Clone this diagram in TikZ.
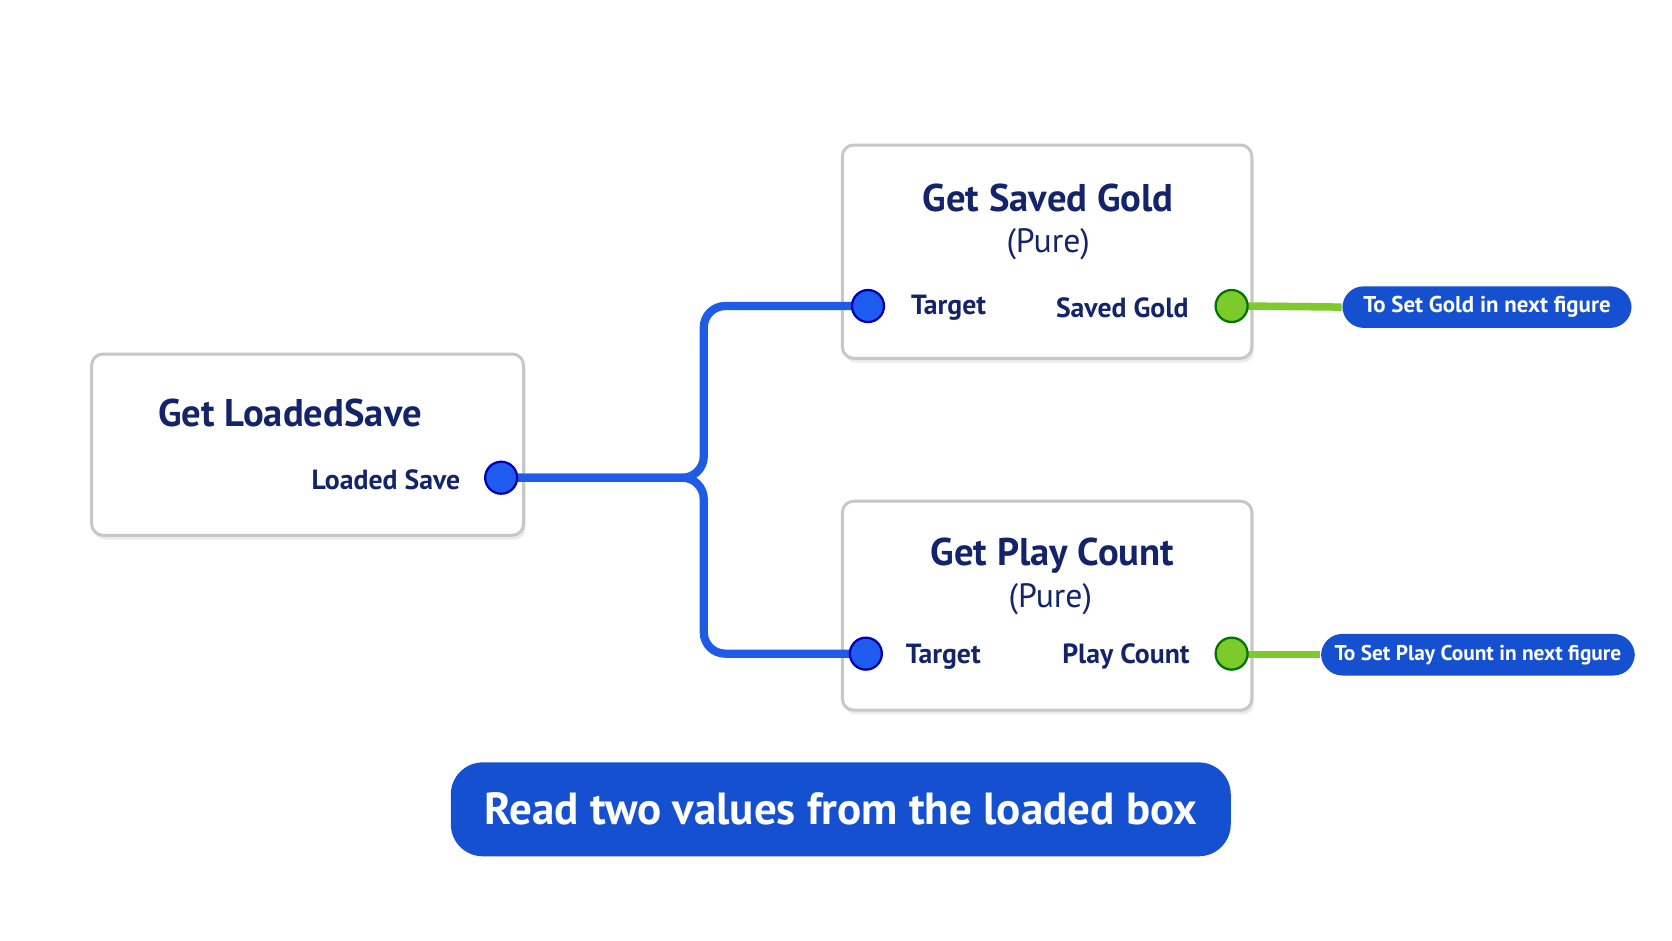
\documentclass[tikz,border=0pt]{standalone}
\usepackage{fontspec}
\setmainfont{PT Sans}
\begin{document}
\begin{tikzpicture}[x=0.01cm,y=-0.01cm,
  box/.style={draw=black!22,line width=0.8pt,fill=white,rounded corners=3pt},
  title/.style={text=navy,font=\bfseries\fontsize{10.3pt}{12pt}\selectfont},
  lab/.style={text=navy,font=\bfseries\fontsize{7.4pt}{9pt}\selectfont},
  bpin/.style={circle,draw=blue!70!black,line width=0.6pt,fill=pinblue,minimum size=0.3cm,inner sep=0},
  gpin/.style={circle,draw=green!45!black,line width=0.6pt,fill=pingreen,minimum size=0.3cm,inner sep=0},
  pill/.style={fill=capblue,rounded corners=0.2cm,text=white,font=\bfseries\fontsize{6.1pt}{7pt}\selectfont,inner sep=0},
  wire/.style={draw=wireblue,line width=2.2pt,rounded corners=0.2cm},
  gwire/.style={draw=pingreen,line width=2pt}]
\definecolor{navy}{HTML}{14246A}
\definecolor{pinblue}{HTML}{1E5CF0}
\definecolor{pingreen}{HTML}{7CCB2A}
\definecolor{capblue}{HTML}{1450D0}
\definecolor{wireblue}{HTML}{1E5CE8}
\useasboundingbox[fill=white] (0,0) rectangle (1568,882);
\foreach \a/\b/\c/\d in {86/332/491/502,790/136/1174/336,790/470/1174/666}{
  \fill[black!8,rounded corners=3pt] (\a+2,\b+4) rectangle (\c+2,\d+4);
  \draw[box] (\a,\b) rectangle (\c,\d);}
\node[title] (t1) at (272,387) {Get LoadedSave};
\node[lab,anchor=east] (l1) at (444,450) {Loaded Save};
\node[title] (t2) at (983,186) {Get Saved Gold};
\node[lab,font=\fontsize{9pt}{10pt}\selectfont] (u2) at (983,229) {(Pure)};
\node[lab,anchor=west] (a2) at (842,289) {Target};
\node[lab,anchor=east] (b2) at (1127,289) {Saved Gold};
\node[title] (t3) at (987,521) {Get Play Count};
\node[lab,font=\fontsize{9pt}{10pt}\selectfont] (u3) at (985,562) {(Pure)};
\node[lab,anchor=west] (a3) at (837,616) {Target};
\node[lab,anchor=east] (b3) at (1128,616) {Play Count};
\node[pill,minimum width=2.71cm,minimum height=0.39cm] (q2) at (1394.5,288) {To Set Gold in next figure};
\node[pill,minimum width=2.94cm,minimum height=0.39cm,font=\bfseries\fontsize{5.7pt}{7pt}\selectfont] (q3) at (1386,614) {To Set Play Count in next figure};
\coordinate (j) at (660,448);
\draw[wire] (485,448) -- (j) -- (660,287) -- (800,287);
\draw[wire] (485,448) -- (j) -- (660,613) -- (800,613);
\draw[gwire] (1170,287) -- (q2.west);
\draw[gwire] (1170,614) -- (q3.west);
\node[bpin] (p1) at (470,448) {};
\node[bpin] (p2) at (814,287) {};
\node[bpin] (p3) at (812,613) {};
\node[gpin] (g2) at (1155,287) {};
\node[gpin] (g3) at (1155,613) {};
\node[pill,rounded corners=0.3cm,minimum width=7.31cm,minimum height=0.88cm,font=\bfseries\fontsize{12pt}{14pt}\selectfont] (cap) at (788.5,759) {Read two values from the loaded box};
\end{tikzpicture}
\end{document}
